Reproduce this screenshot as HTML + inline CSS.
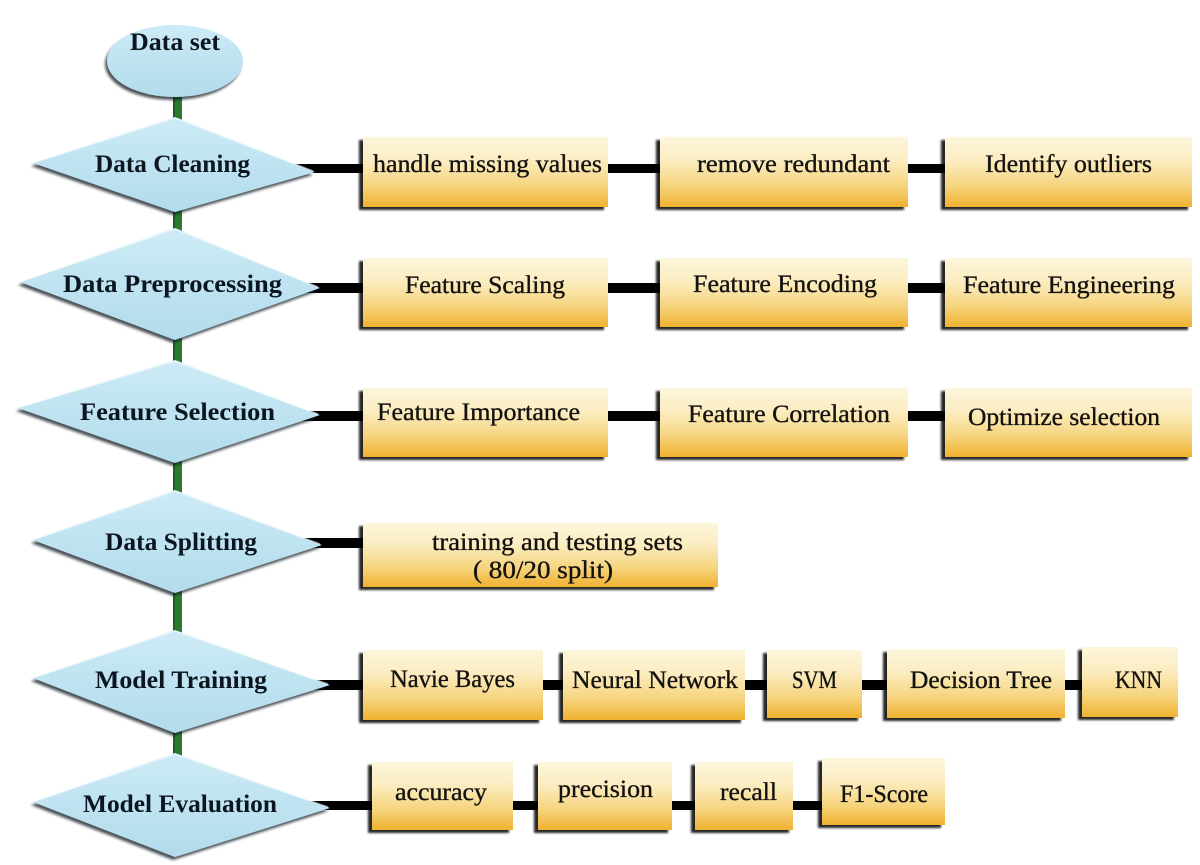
<!DOCTYPE html>
<html>
<head>
<meta charset="utf-8">
<style>
  html,body{margin:0;padding:0;background:#ffffff;}
  svg{display:block;}
  .bt{font-family:"Liberation Serif",serif;font-size:25px;fill:#141210;stroke:#141210;stroke-width:0.35px;}
  .dt{font-family:"Liberation Serif",serif;font-size:25px;font-weight:bold;fill:#0b1620;}
</style>
</head>
<body>
<svg width="1200" height="865" viewBox="0 0 1200 865" xmlns="http://www.w3.org/2000/svg">
  <defs>
    <linearGradient id="bx" x1="0" y1="0" x2="0" y2="1">
      <stop offset="0" stop-color="#fdf6dd"/>
      <stop offset="0.35" stop-color="#fbecbf"/>
      <stop offset="0.7" stop-color="#f6d47e"/>
      <stop offset="1" stop-color="#efb12f"/>
    </linearGradient>
    <linearGradient id="dg" x1="0" y1="0" x2="0" y2="1">
      <stop offset="0" stop-color="#cdebf6"/>
      <stop offset="0.5" stop-color="#bfe3f1"/>
      <stop offset="1" stop-color="#b2dbeb"/>
    </linearGradient>
    <filter id="bs" x="-10%" y="-15%" width="125%" height="140%">
      <feDropShadow dx="-4" dy="3" stdDeviation="1.1" flood-color="#000" flood-opacity="0.85"/>
    </filter>
    <filter id="ds" x="-10%" y="-15%" width="125%" height="140%">
      <feDropShadow dx="-2" dy="3" stdDeviation="1.4" flood-color="#0a1a22" flood-opacity="0.75"/>
    </filter>
  </defs>

  <!-- green vertical spine -->
  <rect x="173" y="88" width="9" height="675" fill="#2b7a2e"/>
  <rect x="173" y="88" width="2" height="675" fill="#1f5e22"/>

  <!-- black connectors -->
  <rect x="290" y="164" width="660" height="9" fill="#000"/>
  <rect x="300" y="283" width="650" height="10" fill="#000"/>
  <rect x="300" y="411" width="650" height="10" fill="#000"/>
  <rect x="300" y="538" width="70" height="10" fill="#000"/>
  <rect x="310" y="680" width="780" height="10" fill="#000"/>
  <rect x="310" y="801" width="520" height="9" fill="#000"/>

  <!-- Data set ellipse -->
  <ellipse cx="175" cy="61" rx="68" ry="36" fill="url(#dg)" filter="url(#ds)"/>
  <text class="dt" x="130" y="50" textLength="90" lengthAdjust="spacingAndGlyphs">Data set</text>

  <!-- diamonds -->
  <g filter="url(#ds)" fill="url(#dg)">
    <polygon points="33,163 175,117 315,172 175,212"/>
    <polygon points="20,282 175,228 320,288 175,340"/>
    <polygon points="18,408 175,360 320,415 175,463"/>
    <polygon points="33,540 175,490 322,545 175,593"/>
    <polygon points="33,678 175,630 330,685 175,733"/>
    <polygon points="33,802 175,753 330,808 175,857"/>
  </g>
  <g fill="none" stroke="#ffffff" stroke-opacity="0.55" stroke-width="1.5">
    <polyline points="35,162 175,118 313,171"/>
    <polyline points="22,281 175,229 318,287"/>
    <polyline points="20,407 175,361 318,414"/>
    <polyline points="35,539 175,491 320,544"/>
    <polyline points="35,677 175,631 328,684"/>
    <polyline points="35,801 175,754 328,807"/>
  </g>

  <text class="dt" x="95" y="172" textLength="155" lengthAdjust="spacingAndGlyphs">Data Cleaning</text>
  <text class="dt" x="63" y="292" textLength="219" lengthAdjust="spacingAndGlyphs">Data Preprocessing</text>
  <text class="dt" x="80" y="420" textLength="195" lengthAdjust="spacingAndGlyphs">Feature Selection</text>
  <text class="dt" x="105" y="550" textLength="152" lengthAdjust="spacingAndGlyphs">Data Splitting</text>
  <text class="dt" x="95" y="688" textLength="172" lengthAdjust="spacingAndGlyphs">Model Training</text>
  <text class="dt" x="83" y="812" textLength="194" lengthAdjust="spacingAndGlyphs">Model Evaluation</text>

  <!-- boxes -->
  <g fill="url(#bx)" filter="url(#bs)">
    <rect x="363" y="137" width="245" height="70"/>
    <rect x="660" y="137" width="248" height="70"/>
    <rect x="945" y="137" width="247" height="70"/>
    <rect x="363" y="258" width="245" height="69"/>
    <rect x="660" y="258" width="248" height="69"/>
    <rect x="945" y="258" width="247" height="69"/>
    <rect x="363" y="388" width="245" height="69"/>
    <rect x="660" y="388" width="248" height="69"/>
    <rect x="945" y="388" width="247" height="69"/>
    <rect x="363" y="523" width="355" height="64"/>
    <rect x="363" y="650" width="180" height="70"/>
    <rect x="563" y="650" width="182" height="70"/>
    <rect x="767" y="650" width="95" height="68"/>
    <rect x="887" y="649" width="178" height="69"/>
    <rect x="1082" y="647" width="96" height="70"/>
    <rect x="372" y="762" width="141" height="68"/>
    <rect x="538" y="762" width="134" height="68"/>
    <rect x="695" y="762" width="98" height="68"/>
    <rect x="822" y="758" width="123" height="67"/>
  </g>

  <!-- box labels -->
  <text class="bt" x="373" y="172" textLength="229" lengthAdjust="spacingAndGlyphs">handle missing values</text>
  <text class="bt" x="697" y="172" textLength="193" lengthAdjust="spacingAndGlyphs">remove redundant</text>
  <text class="bt" x="985" y="172" textLength="167" lengthAdjust="spacingAndGlyphs">Identify outliers</text>

  <text class="bt" x="405" y="293" textLength="160" lengthAdjust="spacingAndGlyphs">Feature Scaling</text>
  <text class="bt" x="693" y="292" textLength="184" lengthAdjust="spacingAndGlyphs">Feature Encoding</text>
  <text class="bt" x="963" y="293" textLength="212" lengthAdjust="spacingAndGlyphs">Feature Engineering</text>

  <text class="bt" x="377" y="420" textLength="203" lengthAdjust="spacingAndGlyphs">Feature Importance</text>
  <text class="bt" x="688" y="422" textLength="202" lengthAdjust="spacingAndGlyphs">Feature Correlation</text>
  <text class="bt" x="968" y="425" textLength="192" lengthAdjust="spacingAndGlyphs">Optimize selection</text>

  <text class="bt" x="432" y="550" textLength="251" lengthAdjust="spacingAndGlyphs">training and testing sets</text>
  <text class="bt" x="473" y="578" textLength="140" lengthAdjust="spacingAndGlyphs">( 80/20 split)</text>

  <text class="bt" x="390" y="687" textLength="125" lengthAdjust="spacingAndGlyphs">Navie Bayes</text>
  <text class="bt" x="572" y="688" textLength="166" lengthAdjust="spacingAndGlyphs">Neural Network</text>
  <text class="bt" x="792" y="688" textLength="45" lengthAdjust="spacingAndGlyphs">SVM</text>
  <text class="bt" x="910" y="688" textLength="142" lengthAdjust="spacingAndGlyphs">Decision Tree</text>
  <text class="bt" x="1115" y="688" textLength="47" lengthAdjust="spacingAndGlyphs">KNN</text>

  <text class="bt" x="395" y="800" textLength="92" lengthAdjust="spacingAndGlyphs">accuracy</text>
  <text class="bt" x="558" y="797" textLength="95" lengthAdjust="spacingAndGlyphs">precision</text>
  <text class="bt" x="720" y="800" textLength="57" lengthAdjust="spacingAndGlyphs">recall</text>
  <text class="bt" x="840" y="802" textLength="88" lengthAdjust="spacingAndGlyphs">F1-Score</text>
</svg>
</body>
</html>
